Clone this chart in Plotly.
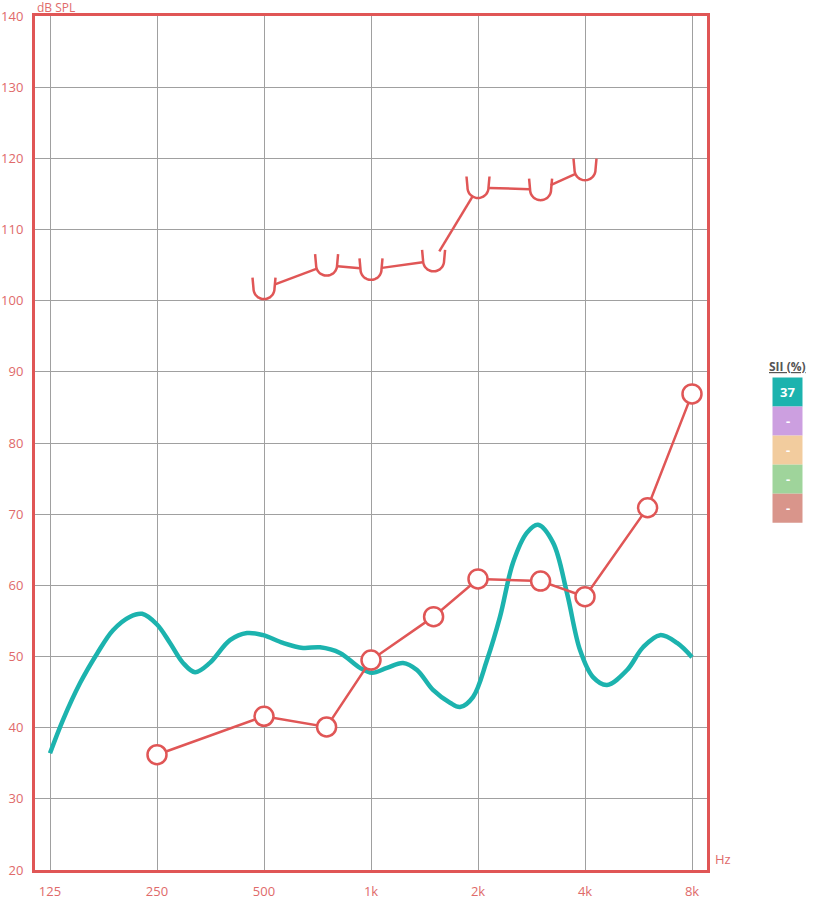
import numpy as np
import plotly.graph_objects as go

# ---------------- data ----------------
FREQ_TICKS = [125, 250, 500, 1000, 2000, 4000, 8000]
FREQ_LABELS = ["125", "250", "500", "1k", "2k", "4k", "8k"]
DB_TICKS = list(range(20, 150, 10))

THR_FREQ = [250, 500, 750, 1000, 1500, 2000, 3000, 4000, 6000, 8000]
THR_DB = [36.2, 41.6, 40.1, 49.5, 55.6, 60.9, 60.6, 58.4, 70.9, 86.9]

UCL_FREQ = [500, 750, 1000, 1500, 2000, 3000, 4000]
UCL_DB = [101.7, 105.0, 104.4, 105.6, 115.9, 115.6, 118.4]

SPEECH_FREQ = [125, 136, 152, 170, 188, 210, 227, 250, 272, 296, 320, 352, 401, 448, 497,
               566, 644, 719, 818, 931, 1006, 1109, 1231, 1347, 1494, 1668, 1780, 1936,
               2120, 2307, 2510, 2747, 2950, 3252, 3560, 3873, 4213, 4613, 5254, 5826,
               6505, 7262, 8000]
SPEECH_DB = [36.4, 41.1, 46.3, 50.5, 53.7, 55.6, 56.0, 54.5, 51.9, 49.1, 47.8, 49.1, 52.3, 53.3, 53.0,
             51.9, 51.2, 51.3, 50.5, 48.4, 47.7, 48.4, 49.1, 48.1, 45.3, 43.5, 42.9, 44.3,
             49.5, 55.6, 63.2, 67.4, 68.5, 66.0, 58.9, 50.9, 47.1, 46.0, 48.1, 51.3,
             53.0, 51.9, 49.9]

SII_TITLE = "SII (%)"
SII_LABELS = ["37", "-", "-", "-", "-"]
SII_COLORS = ["#1cb3ae", "#cc9fe0", "#f2cc9e", "#9fd49b", "#d9958b"]

# ---------------- geometry ----------------
FIG_W, FIG_H = 822, 902
ML, MR, MT, MB = 35, 115, 16, 32
W = FIG_W - ML - MR
H = FIG_H - MT - MB
OCT = np.log10(2)
LX0 = np.log10(125) - (15 / 107) * OCT
LX1 = np.log10(8000) + (15 / 107) * OCT
Y0, Y1 = 20, 140

RED = "#e05656"
TXT_RED = "#e06a6a"
TEAL = "#1cb3ae"


def to_px(f, db):
    return ((np.log10(f) - LX0) / (LX1 - LX0) * W, (db - Y0) / (Y1 - Y0) * H)


def to_data(px, py):
    return (10 ** (LX0 + px / W * (LX1 - LX0)), Y0 + py / H * (Y1 - Y0))


# U-shaped UCL markers and shortened connecting segments
R_U = 10.5
ARM = 11.0
GAP = 11.0
ux, uy = [], []
for f, d in zip(UCL_FREQ, UCL_DB):
    cx, cy = to_px(f, d)
    pts = [(cx - R_U - 1.0, cy + ARM)]
    for t in np.linspace(np.pi, 2 * np.pi, 25):
        pts.append((cx + R_U * np.cos(t), cy + R_U * np.sin(t)))
    pts.append((cx + R_U + 1.0, cy + ARM))
    for p in pts:
        a, b = to_data(*p)
        ux.append(a)
        uy.append(b)
    ux.append(None)
    uy.append(None)

sx, sy = [], []
for i in range(len(UCL_FREQ) - 1):
    p0 = np.array(to_px(UCL_FREQ[i], UCL_DB[i]))
    p1 = np.array(to_px(UCL_FREQ[i + 1], UCL_DB[i + 1]))
    u = (p1 - p0) / np.linalg.norm(p1 - p0)
    a = p0 + u * GAP
    b = p1 - u * GAP
    for p in (a, b):
        xx, yy = to_data(*p)
        sx.append(xx)
        sy.append(yy)
    sx.append(None)
    sy.append(None)

fig = go.Figure()

fig.add_trace(go.Scatter(
    x=SPEECH_FREQ, y=SPEECH_DB, mode="lines",
    line=dict(color=TEAL, width=4.5, shape="spline", smoothing=1.0),
    hoverinfo="skip"))

fig.add_trace(go.Scatter(
    x=THR_FREQ, y=THR_DB, mode="lines+markers",
    line=dict(color=RED, width=2.5),
    marker=dict(symbol="circle", size=19, color="white", line=dict(color=RED, width=2.5))))

fig.add_trace(go.Scatter(x=sx, y=sy, mode="lines", line=dict(color=RED, width=2.5),
                         hoverinfo="skip"))
fig.add_trace(go.Scatter(x=ux, y=uy, mode="lines", line=dict(color=RED, width=2.5, shape="spline"),
                         hoverinfo="skip"))

FONT = "Open Sans"


def paper_x(px):
    return (px - ML) / W


def paper_y(py):
    return (FIG_H - MB - py) / H


shapes = []
annotations = [
    dict(text="dB SPL", x=0, y=1, xref="paper", yref="paper", xanchor="left", yanchor="bottom",
         yshift=-2, showarrow=False, font=dict(family=FONT, size=12, color=TXT_RED)),
    dict(text="Hz", x=1, y=0, xref="paper", yref="paper", xanchor="left", yanchor="bottom",
         xshift=6, yshift=0, showarrow=False, font=dict(family=FONT, size=13, color=TXT_RED)),
    dict(text="<b><u>" + SII_TITLE + "</u></b>", x=paper_x(788), y=paper_y(366), xref="paper",
         yref="paper", xanchor="center", yanchor="middle", showarrow=False,
         font=dict(family=FONT, size=12, color="#555555")),
]
BX0, BX1 = 772.5, 802.5
BTOP, BH = 377.5, 29.05
for i, (lab, col) in enumerate(zip(SII_LABELS, SII_COLORS)):
    t = BTOP + i * BH
    shapes.append(dict(type="rect", xref="paper", yref="paper",
                       x0=paper_x(BX0), x1=paper_x(BX1), y0=paper_y(t + BH), y1=paper_y(t),
                       fillcolor=col, line=dict(width=0), layer="above"))
    annotations.append(dict(text="<b>" + lab + "</b>", x=paper_x((BX0 + BX1) / 2),
                            y=paper_y(t + BH / 2), xref="paper", yref="paper",
                            xanchor="center", yanchor="middle", showarrow=False,
                            font=dict(family=FONT, size=13, color="white")))

fig.update_layout(
    width=FIG_W, height=FIG_H,
    margin=dict(l=ML, r=MR, t=MT, b=MB, pad=0, autoexpand=False),
    plot_bgcolor="white", paper_bgcolor="white",
    showlegend=False,
    shapes=shapes, annotations=annotations,
    xaxis=dict(type="log", range=[LX0, LX1], tickvals=FREQ_TICKS, ticktext=FREQ_LABELS,
               showgrid=True, gridcolor="#a0a0a0", gridwidth=1, zeroline=False,
               showline=True, mirror=True, linecolor=RED, linewidth=3, ticks="",
               ticklabelstandoff=7, automargin=False,
               tickfont=dict(family=FONT, size=13, color=TXT_RED)),
    yaxis=dict(range=[Y0, Y1], tickvals=DB_TICKS, showgrid=True, gridcolor="#a0a0a0",
               gridwidth=1, zeroline=False, showline=True, mirror=True, linecolor=RED,
               linewidth=3, ticks="", ticklabelstandoff=6, automargin=False,
               tickfont=dict(family=FONT, size=13, color=TXT_RED)),
)

fig.write_html("out.html", config={"displayModeBar": False},
               post_script="document.body.style.margin='0';document.body.style.overflow='hidden';")
